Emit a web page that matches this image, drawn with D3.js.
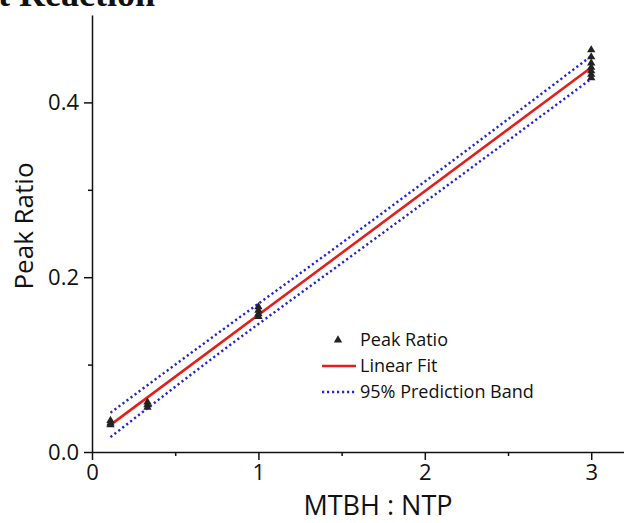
<!DOCTYPE html>
<html>
<head>
<meta charset="utf-8">
<script src="https://cdn.jsdelivr.net/npm/d3@7"></script>
<style>
	body { margin: 0; background: #fff; }
	svg { display: block; }
	.axis text { font-family: "Open Sans", sans-serif; font-size: 22px; fill: #111; }
	.axis path, .axis line { stroke: #111; stroke-width: 1.5px; }
</style>
</head>
<body>
<div id="container"></div>
<script>
// Chart size
const width = 624;
const height = 523;
const marginTop = 15;
const marginRight = 0;
const marginBottom = 71;
const marginLeft = 92;

// Measured points (MTBH : NTP ratio, peak ratio)
const ratioX = [1/9, 1/9, 1/9, 1/3, 1/3, 1/3, 1, 1, 1, 1, 3, 3, 3, 3, 3, 3, 3];
const peakRatio = [0.036, 0.033, 0.031, 0.057, 0.054, 0.051, 0.166, 0.162, 0.158, 0.155, 0.460, 0.452, 0.445, 0.440, 0.436, 0.432, 0.428];

// Linear fit
const fitX = [1/9, 3];
const fitY = [0.031, 0.440];

// 95% prediction band
const bandX = [1/9, 0.75, 1.5, 2.25, 3];
const bandUpper = [0.045, 0.135, 0.239, 0.345, 0.453];
const bandLower = [0.017, 0.111, 0.216, 0.321, 0.427];

const xTicks = [0, 1, 2, 3];
const xMinor = [0.5, 1.5, 2.5];
const yTicks = [0, 0.2, 0.4];
const yMinor = [0.1, 0.3];

const legendItems = ["Peak Ratio", "Linear Fit", "95% Prediction Band"];

const x = d3.scaleLinear()
	.domain([0, 3.2])
	.range([marginLeft, width - marginRight + 0.5]);

const y = d3.scaleLinear()
	.domain([0, 0.5])
	.range([height - marginBottom, marginTop]);

const svg = d3.select("#container").append("svg")
	.attr("width", width)
	.attr("height", height);

// Title, cut off by the top edge
svg.append("text")
	.attr("x", 155)
	.attr("y", 6)
	.attr("text-anchor", "end")
	.style("font-family", "'Liberation Serif', serif")
	.style("font-weight", "bold")
	.style("font-size", "36px")
	.style("fill", "#111")
	.text("t Reaction");

// x-axis
svg.append("g")
	.attr("class", "axis")
	.attr("transform", `translate(0,${y(0)})`)
	.call(d3.axisBottom(x).tickValues(xTicks).tickSize(8).tickSizeOuter(0).tickPadding(4).tickFormat(d3.format("d")));

svg.append("g")
	.attr("class", "axis")
	.attr("transform", `translate(0,${y(0)})`)
	.call(d3.axisBottom(x).tickValues(xMinor).tickSize(4).tickSizeOuter(0).tickFormat(""))
	.select(".domain").remove();

// y-axis
svg.append("g")
	.attr("class", "axis")
	.attr("transform", `translate(${x(0)},0)`)
	.call(d3.axisLeft(y).tickValues(yTicks).tickSize(8).tickSizeOuter(0).tickPadding(5).tickFormat(d3.format(".1f")));

svg.append("g")
	.attr("class", "axis")
	.attr("transform", `translate(${x(0)},0)`)
	.call(d3.axisLeft(y).tickValues(yMinor).tickSize(4).tickSizeOuter(0).tickFormat(""))
	.select(".domain").remove();

// Axis titles
svg.append("text")
	.attr("x", 378)
	.attr("y", 515)
	.attr("text-anchor", "middle")
	.style("font-family", "'Open Sans', sans-serif")
	.style("font-size", "27px")
	.style("fill", "#111")
	.text("MTBH : NTP");

svg.append("text")
	.attr("transform", `translate(33,226) rotate(-90)`)
	.attr("text-anchor", "middle")
	.style("font-family", "'Open Sans', sans-serif")
	.style("font-size", "26px")
	.style("fill", "#111")
	.text("Peak Ratio");

// Prediction band
const bandLine = d3.line().curve(d3.curveMonotoneX)
	.x(d => x(d[0]))
	.y(d => y(d[1]));

[bandUpper, bandLower].forEach(b => {
	svg.append("path")
		.attr("fill", "none")
		.attr("stroke", "#2323d8")
		.attr("stroke-width", 2.4)
		.attr("stroke-dasharray", "2.2,2.8")
		.attr("d", bandLine(bandX.map((d, i) => [d, b[i]])));
});

// Linear fit
svg.append("path")
	.attr("fill", "none")
	.attr("stroke", "#e41f1a")
	.attr("stroke-width", 2.6)
	.attr("d", d3.line()(fitX.map((d, i) => [x(d), y(fitY[i])])));

// Points
svg.selectAll(".pt")
	.data(ratioX)
	.join("path")
		.attr("class", "pt")
		.attr("transform", (d, i) => `translate(${x(d)},${y(peakRatio[i])})`)
		.attr("fill", "#222")
		.attr("d", d3.symbol(d3.symbolTriangle).size(30));

// Legend
const legend = svg.append("g");
const lx = 322, ly = 340, lstep = 26;

legend.append("path")
	.attr("transform", `translate(${lx + 16},${ly})`)
	.attr("fill", "#222")
	.attr("d", d3.symbol(d3.symbolTriangle).size(30));

legend.append("line")
	.attr("x1", lx).attr("x2", lx + 34)
	.attr("y1", ly + lstep).attr("y2", ly + lstep)
	.attr("stroke", "#e41f1a")
	.attr("stroke-width", 2.6);

legend.append("line")
	.attr("x1", lx).attr("x2", lx + 34)
	.attr("y1", ly + 2 * lstep).attr("y2", ly + 2 * lstep)
	.attr("stroke", "#2323d8")
	.attr("stroke-width", 2.4)
	.attr("stroke-dasharray", "2.2,2.8");

legend.selectAll("text")
	.data(legendItems)
	.join("text")
		.attr("x", lx + 38)
		.attr("y", (d, i) => ly + i * lstep)
		.attr("dy", "0.35em")
		.style("font-family", "'Open Sans', sans-serif")
		.style("font-size", "18px")
		.style("fill", "#111")
		.text(d => d);
</script>
</body>
</html>
